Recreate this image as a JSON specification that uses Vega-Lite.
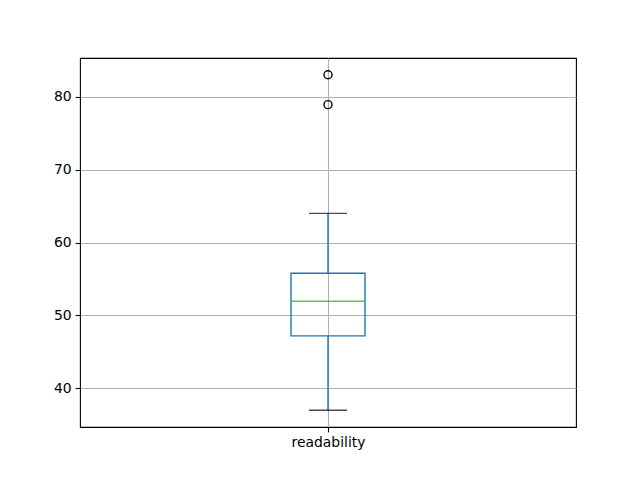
{
  "$schema": "https://vega.github.io/schema/vega-lite/v6.json",
  "width": 496,
  "height": 369,
  "autosize": "none",
  "padding": {"left": 80, "top": 58, "right": 64, "bottom": 53},
  "background": "white",
  "config": {
    "view": {"stroke": "black", "strokeWidth": 1.1},
    "axis": {
      "domain": false,
      "grid": true,
      "gridColor": "#b0b0b0",
      "gridWidth": 1.1,
      "tickColor": "black",
      "tickWidth": 1.1,
      "tickSize": 4.9,
      "labelFont": "DejaVu Sans",
      "labelFontSize": 13.9,
      "labelColor": "black",
      "labelPadding": 4,
      "title": null
    }
  },
  "datasets": {
    "stats": [
      {"pos": 1, "label": "readability", "lower": 37, "q1": 47.2, "median": 51.95, "q3": 55.78, "upper": 64}
    ],
    "whiskers": [
      {"pos": 1, "from": 37, "to": 47.2},
      {"pos": 1, "from": 55.78, "to": 64}
    ],
    "caps": [
      {"pos": 1, "value": 37},
      {"pos": 1, "value": 64}
    ],
    "outliers": [
      {"pos": 1, "value": 78.9},
      {"pos": 1, "value": 83}
    ]
  },
  "layer": [
    {
      "data": {"name": "whiskers"},
      "mark": {"type": "rule", "color": "#1f77b4", "strokeWidth": 1.4},
      "encoding": {
        "x": {"field": "pos", "type": "quantitative", "scale": {"domain": [0.5, 1.5]},
              "axis": {"values": [1], "labelExpr": "'readability'", "labelAngle": 0}},
        "y": {"field": "from", "type": "quantitative", "scale": {"domain": [34.7, 85.3], "nice": false, "zero": false},
              "axis": {"values": [40, 50, 60, 70, 80]}},
        "y2": {"field": "to"}
      }
    },
    {
      "data": {"name": "caps"},
      "mark": {"type": "tick", "orient": "horizontal", "color": "black", "size": 38, "thickness": 1.4},
      "encoding": {
        "x": {"field": "pos", "type": "quantitative"},
        "y": {"field": "value", "type": "quantitative"}
      }
    },
    {
      "data": {"name": "stats"},
      "mark": {"type": "bar", "fill": "white", "fillOpacity": 0, "stroke": "#1f77b4", "strokeWidth": 1.4, "size": 74, "orient": "vertical"},
      "encoding": {
        "x": {"field": "pos", "type": "quantitative"},
        "y": {"field": "q1", "type": "quantitative"},
        "y2": {"field": "q3"}
      }
    },
    {
      "data": {"name": "stats"},
      "mark": {"type": "tick", "orient": "horizontal", "color": "#2ca02c", "size": 74, "thickness": 1.4},
      "encoding": {
        "x": {"field": "pos", "type": "quantitative"},
        "y": {"field": "median", "type": "quantitative"}
      }
    },
    {
      "data": {"name": "outliers"},
      "mark": {"type": "point", "shape": "circle", "filled": false, "stroke": "black", "strokeWidth": 1.4, "size": 64, "opacity": 1},
      "encoding": {
        "x": {"field": "pos", "type": "quantitative"},
        "y": {"field": "value", "type": "quantitative"}
      }
    }
  ]
}
